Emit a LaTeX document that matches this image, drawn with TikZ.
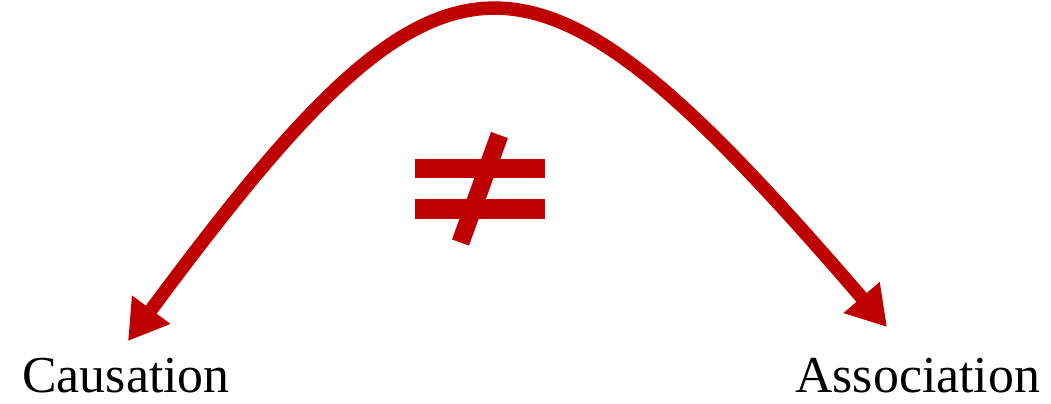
\documentclass[tikz,border=0pt]{standalone}
\usepackage{fontspec}
\setmainfont{Liberation Serif}
\usetikzlibrary{arrows.meta}
\definecolor{ArrowClr}{rgb}{0.75,0,0}

\begin{document}
\begin{tikzpicture}[x=0.02cm,y=-0.02cm,
  bigarrow/.style={line width=0.27cm,color=ArrowClr,
    {Triangle[length=0.78cm,width=0.9cm]}-{Triangle[length=0.78cm,width=0.9cm]}},
  bar/.style={fill=ArrowClr},
  word/.style={font=\fontsize{29.5}{34}\selectfont,inner sep=0pt,text depth=0pt}]
\useasboundingbox (0,0) rectangle (1051,403);

\node[word,anchor=base west] (cause) at (22,392) {Causation};
\node[word,anchor=base west] (assoc) at (795,392) {Association};

\coordinate (tipC) at (128,341);
\coordinate (tipA) at (887,327);
\draw[bigarrow] (tipC) .. controls (448,-91) and (527,-91) .. (tipA);

% not equal sign
\fill[bar] (415,159) rectangle (545,178);
\fill[bar] (415,199) rectangle (545,219);
\draw[ArrowClr,line width=0.36cm] (499.5,135) -- (460.5,242.5);

\end{tikzpicture}
\end{document}
